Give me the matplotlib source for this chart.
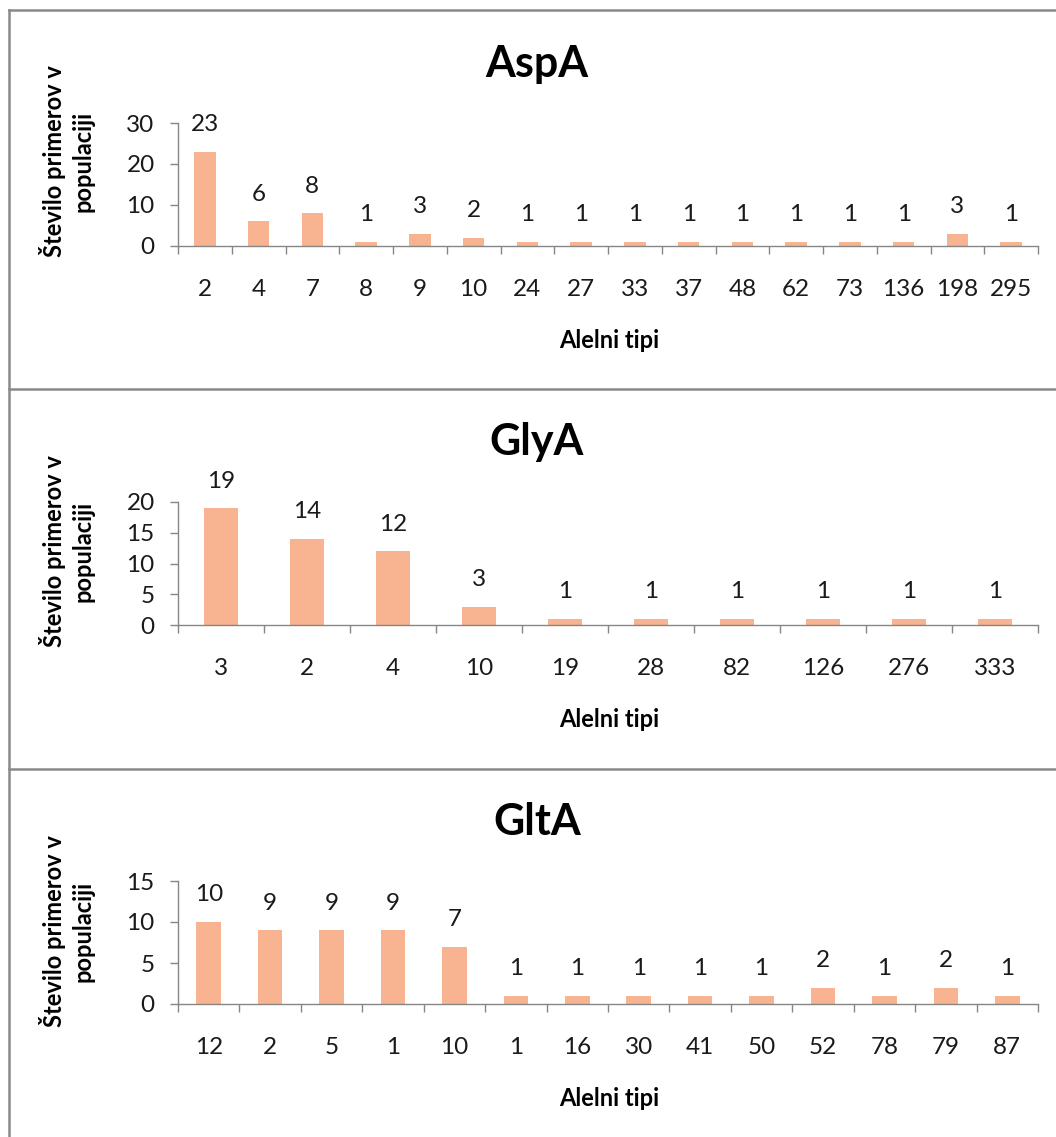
import matplotlib
matplotlib.use("Agg")
import matplotlib.pyplot as plt
from matplotlib.lines import Line2D
import numpy as np

plt.rcParams['font.family'] = ['Lato', 'DejaVu Sans']

# allele types and how many isolates carry each, per locus
asp_types = ['2', '4', '7', '8', '9', '10', '24', '27', '33', '37', '48', '62', '73', '136', '198', '295']
asp_counts = [23, 6, 8, 1, 3, 2, 1, 1, 1, 1, 1, 1, 1, 1, 3, 1]
asp_yticks = [0, 10, 20, 30]

gly_types = ['3', '2', '4', '10', '19', '28', '82', '126', '276', '333']
gly_counts = [19, 14, 12, 3, 1, 1, 1, 1, 1, 1]
gly_yticks = [0, 5, 10, 15, 20]

glt_types = ['12', '2', '5', '1', '10', '1', '16', '30', '41', '50', '52', '78', '79', '87']
glt_counts = [10, 9, 9, 9, 7, 1, 1, 1, 1, 1, 2, 1, 2, 1]
glt_yticks = [0, 5, 10, 15]

W, H = 1056, 1137
BAR_COLOR = '#F8B490'
AXIS_COLOR = '#868686'
BORDER_COLOR = '#8a8a8a'
NUM_SIZE = 17.5

fig = plt.figure(figsize=(W / 100, H / 100), dpi=100)


def fx(x):
    return x / W


def fy(y):
    return 1 - y / H


def draw_panel(title, types, counts, yticks, y_zero, y_top, title_base, ylabel_y):
    """Draws one bar chart block: title, bars, value labels and axis labels."""
    left, right = 178, 1038
    ax = fig.add_axes([fx(left), fy(y_zero), (right - left) / W, (y_zero - y_top) / H])
    n = len(types)
    x = np.arange(n)
    ax.bar(x, counts, width=0.4, color=BAR_COLOR, zorder=2)

    for i, v in enumerate(counts):
        ax.annotate(str(v), (i, v), xytext=(0, 19.5), textcoords='offset points',
                    ha='center', va='center', fontsize=NUM_SIZE, color='#1a1a1a')

    ax.set_xlim(-0.5, n - 0.5)
    ax.set_ylim(0, yticks[-1])
    ax.set_yticks(yticks)
    ax.set_xticks(x)
    ax.set_xticklabels(types)
    ax.set_xticks(np.arange(n + 1) - 0.5, minor=True)
    ax.tick_params(axis='x', which='major', length=0, pad=24, labelsize=NUM_SIZE,
                   labelcolor='#1a1a1a')
    ax.tick_params(axis='x', which='minor', length=5.8, width=1, color=AXIS_COLOR)
    ax.tick_params(axis='y', length=5.8, width=1, color=AXIS_COLOR, pad=11,
                   labelsize=NUM_SIZE, labelcolor='#1a1a1a')

    for side in ['top', 'right']:
        ax.spines[side].set_visible(False)
    for side in ['left', 'bottom']:
        ax.spines[side].set_color(AXIS_COLOR)
        ax.spines[side].set_linewidth(1)
    ax.spines['left'].set_zorder(3)

    fig.text(fx(537), fy(title_base), title, ha='center', va='baseline',
             fontsize=31, fontweight='bold')
    fig.text(fx(609), fy(y_zero + 102), 'Alelni tipi', ha='center', va='baseline',
             fontsize=17, fontweight='bold')
    fig.text(fx(67), fy(ylabel_y), 'Število primerov v\npopulaciji', rotation=90,
             ha='center', va='center', multialignment='center',
             fontsize=17, fontweight='bold', linespacing=1.3)
    return ax


draw_panel('AspA', asp_types, asp_counts, asp_yticks, 246, 123, 77, 161)
draw_panel('GlyA', gly_types, gly_counts, gly_yticks, 625, 502, 455, 551)
draw_panel('GltA', glt_types, glt_counts, glt_yticks, 1004, 881, 835, 931)

# frame lines around the three blocks
for y in [10.3, 388.5, 768.5]:
    fig.add_artist(Line2D([fx(8.7), 1.0], [fy(y), fy(y)], color=BORDER_COLOR, lw=1.8))
fig.add_artist(Line2D([fx(8.7), fx(8.7)], [fy(10.3), 0.0], color=BORDER_COLOR, lw=1.8))

fig.savefig('out.png', dpi=100)
